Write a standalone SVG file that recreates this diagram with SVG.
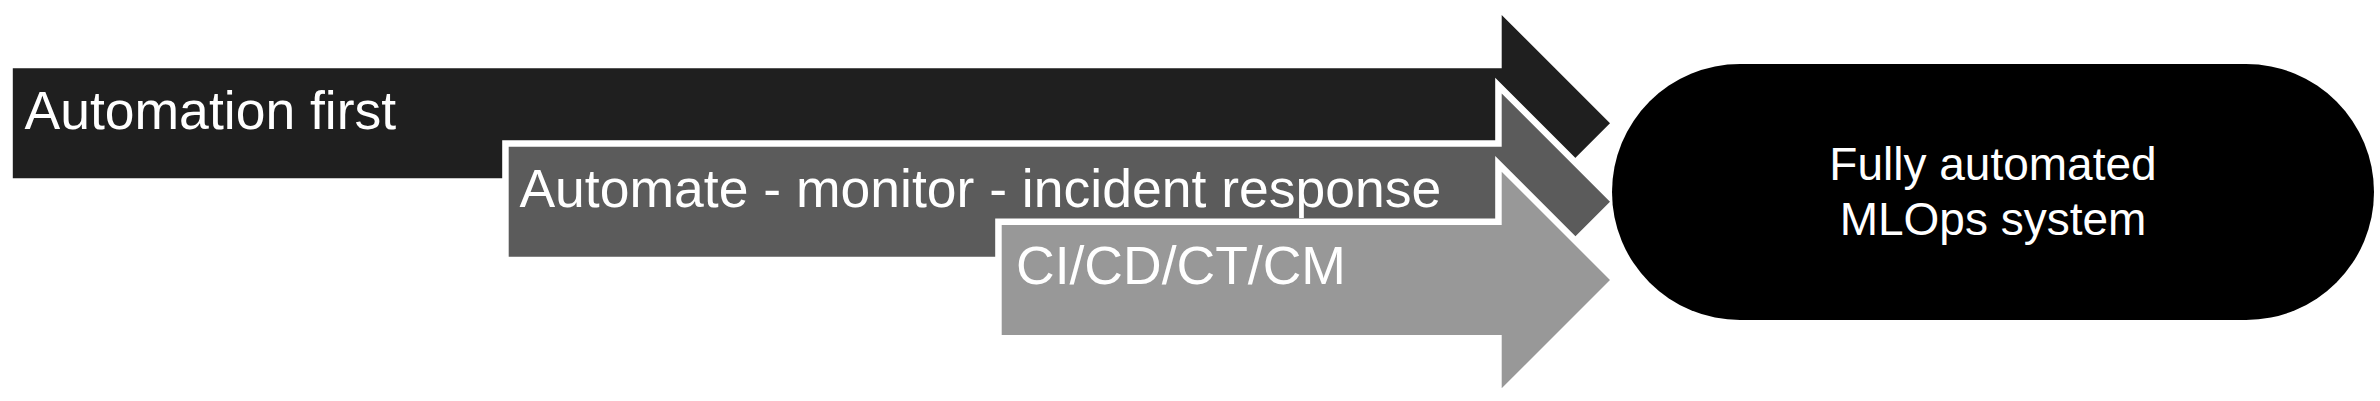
<svg xmlns="http://www.w3.org/2000/svg" width="2380" height="401" viewBox="0 0 2380 401">
  <style>
    .arrow { stroke: #ffffff; stroke-width: 13; stroke-linejoin: miter; stroke-miterlimit: 10; paint-order: stroke; }
    .a1 { fill: #1f1f1f; }
    .a2 { fill: #5b5b5b; }
    .a3 { fill: #989898; }
    .lbl { font-family: "Liberation Sans", Arial, sans-serif; font-size: 53.5px; fill: #ffffff; }
    .pill { fill: #000000; }
    .ptxt { font-family: "Liberation Sans", Arial, sans-serif; font-size: 46px; fill: #ffffff; text-anchor: middle; }
  </style>
  <rect x="0" y="0" width="2380" height="401" fill="#ffffff"/>
  <g id="node-automation-first">
    <path class="a1" d="M12.8,68.3 H1501.7 V15 L1610,123.3 L1501.7,231.6 V178.3 H12.8 Z"/>
    <text class="lbl" x="24.5" y="129">Automation first</text>
  </g>
  <g id="node-automate-monitor">
    <path class="arrow a2" d="M508.7,146.7 H1501.7 V93.4 L1610,201.7 L1501.7,310 V256.7 H508.7 Z"/>
    <text class="lbl" x="519.4" y="206.7">Automate - monitor - incident response</text>
  </g>
  <g id="node-cicd">
    <path class="arrow a3" d="M1001.7,225 H1501.7 V171.7 L1610,280 L1501.7,388.3 V335 H1001.7 Z"/>
    <text class="lbl" x="1016" y="284.3">CI/CD/CT/CM</text>
  </g>
  <g id="node-mlops">
    <rect class="pill" x="1612" y="64" width="762" height="256" rx="128" ry="128"/>
    <text class="ptxt" x="1993" y="180">Fully automated</text>
    <text class="ptxt" x="1993" y="235">MLOps system</text>
  </g>
  <g id="connectors"></g>
</svg>
